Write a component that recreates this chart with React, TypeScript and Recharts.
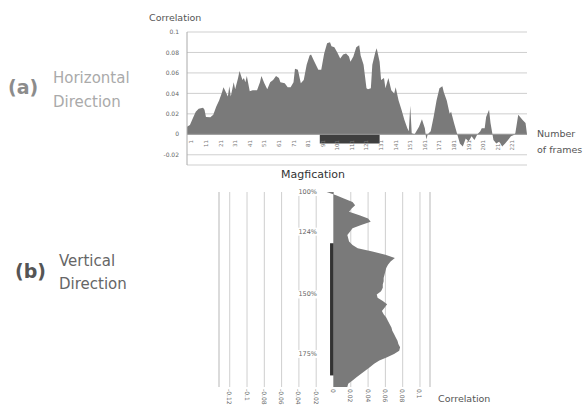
import React from "react";
import {
  AreaChart,
  ComposedChart,
  Area,
  XAxis,
  YAxis,
  CartesianGrid,
  ReferenceArea,
  ReferenceLine,
} from "recharts";

// (a) horizontal direction: correlation per frame
const FRAMES = [
  -2, 0, 2, 4, 6, 9, 10, 11, 14, 16, 18, 20, 22, 23, 24, 26, 27, 28, 30, 31,
  33, 34, 36, 37, 38, 39, 41, 43, 46, 48, 49, 51, 53, 55, 57, 59, 61, 62, 65,
  67, 69, 71, 72, 74, 76, 78, 80, 82, 83, 85, 87, 88, 90, 92, 94, 96, 97, 99,
  101, 103, 105, 107, 109, 110, 112, 114, 116, 117, 119, 121, 122, 124, 125,
  127, 128, 130, 131, 133, 134, 136, 138, 140, 141, 143, 145, 147, 149, 150,
  151, 152, 154, 157, 159, 161, 162, 163, 165, 167, 169, 171, 173, 174, 176,
  178, 179, 181, 183, 185, 187, 189, 191, 193, 195, 197, 199, 200, 202, 203,
  205, 206, 208, 210, 212, 214, 216, 218, 220, 222, 223, 225, 227, 228, 230,
  231,
];
const H_CORR = [
  0.0075, 0.009, 0.0156, 0.022, 0.025, 0.026, 0.024, 0.017, 0.0166, 0.019,
  0.027, 0.033, 0.041, 0.046, 0.043, 0.037, 0.047, 0.037, 0.051, 0.044, 0.055,
  0.062, 0.053, 0.055, 0.051, 0.057, 0.042, 0.043, 0.043, 0.051, 0.057, 0.05,
  0.044, 0.051, 0.053, 0.057, 0.055, 0.051, 0.05, 0.046, 0.046, 0.051, 0.064,
  0.063, 0.05, 0.053, 0.068, 0.077, 0.078, 0.072, 0.066, 0.063, 0.063, 0.079,
  0.089, 0.09, 0.086, 0.085, 0.08, 0.074, 0.078, 0.079, 0.076, 0.071, 0.076,
  0.085, 0.087, 0.077, 0.068, 0.045, 0.044, 0.045, 0.068, 0.08, 0.084, 0.071,
  0.053, 0.055, 0.045, 0.055, 0.043, 0.04, 0.046, 0.033, 0.024, 0.014, 0.006,
  0.003, 0.028, 0.001, 0, 0.0075, 0.0146, 0.006, -0.005, 0, 0.003, 0.017,
  0.033, 0.045, 0.047, 0.041, 0.033, 0.02, 0.022, 0.011, 0.001, -0.009, -0.012,
  -0.004, -0.007, -0.002, -0.0055, 0, 0.003, 0.006, 0.006, 0.017, 0.024, 0.011,
  -0.0055, -0.009, -0.007, -0.012, -0.009, -0.0055, -0.002, -0.0007, 0.001,
  0.019, 0.0156, 0.014, 0.011, 0,
];
const FRAME_TICKS = [
  1, 11, 21, 31, 41, 51, 61, 71, 81, 91, 101, 111, 121, 131, 141, 151, 161,
  171, 181, 191, 201, 211, 221,
];
const H_TICKS = [-0.02, 0, 0.02, 0.04, 0.06, 0.08, 0.1];
const H_MARK = { from: 89, to: 130, depth: -0.009 };

// (b) vertical direction: correlation per magnification step (top = 100%)
const V_CORR = [
  -0.008, 0.003, 0.012, 0.022, 0.025, 0.021, 0.018, 0.03, 0.04, 0.043, 0.032,
  0.022, 0.019, 0.016, 0.017, 0.018, 0.022, 0.028, 0.045, 0.06, 0.071, 0.066,
  0.063, 0.061, 0.06, 0.059, 0.058, 0.058, 0.057, 0.057, 0.055, 0.05, 0.051,
  0.057, 0.062, 0.059, 0.056, 0.058, 0.061, 0.063, 0.065, 0.067, 0.068, 0.07,
  0.072, 0.074, 0.075, 0.077, 0.076, 0.07, 0.062, 0.053, 0.047, 0.042, 0.037,
  0.032, 0.027, 0.022, 0.017, 0.016,
];
const MAG_TICK_ROWS = [0, 12, 31, 49];
const MAG_LABELS = ["100%", "124%", "150%", "175%"];
const V_TICKS = [-0.12, -0.1, -0.08, -0.06, -0.04, -0.02, 0, 0.02, 0.04, 0.06, 0.08, 0.1];
const V_DOMAIN = [-0.1324, 0.1116];
const V_MARK = { from: 15.5, to: 55.5, depth: -0.004 };

const AREA_GRAY = "#7a7a7a";
const GRID = "#cfcfcf";
const FONT = "'DejaVu Sans', Verdana, sans-serif";

const hData = FRAMES.map((f, i) => ({ frame: f, corr: H_CORR[i] }));
const vData = V_CORR.map((c, i) => ({ row: i, corr: c }));

const FrameTick = (props: any) => {
  const { x, payload } = props;
  const y = 140;
  return (
    <text
      x={x}
      y={y}
      transform={`rotate(-90 ${x} ${y})`}
      textAnchor="end"
      dominantBaseline="central"
      fontSize={5.5}
      fill="#777"
    >
      {payload.value}
    </text>
  );
};

const CorrTick = (props: any) => {
  const { x, payload } = props;
  const y = 209;
  return (
    <text
      x={x}
      y={y}
      transform={`rotate(90 ${x} ${y})`}
      textAnchor="start"
      dominantBaseline="central"
      fontSize={6}
      fill="#666"
    >
      {String(payload.value)}
    </text>
  );
};

const MagTick = (props: any) => {
  const { y, payload } = props;
  const idx = MAG_TICK_ROWS.indexOf(payload.value);
  const right = 317;
  return (
    <g>
      <rect x={right - 22} y={y - 4} width={23} height={8} fill="#fff" />
      <text x={right} y={y} textAnchor="end" dominantBaseline="central" fontSize={6.5} fill="#666">
        {MAG_LABELS[idx]}
      </text>
    </g>
  );
};

export default function App() {
  return (
    <div
      style={{
        position: "absolute",
        left: 0,
        top: 0,
        width: 583,
        height: 407,
        background: "#fff",
        fontFamily: FONT,
        overflow: "hidden",
      }}
    >
      {/* (a) */}
      <div style={{ position: "absolute", left: 0, top: 0 }}>
        <AreaChart
          width={583}
          height={180}
          data={hData}
          margin={{ top: 32, right: 56, bottom: 5, left: 147 }}
        >
          <CartesianGrid vertical={false} stroke={GRID} />
          <XAxis
            type="number"
            dataKey="frame"
            domain={[-2, 231]}
            ticks={FRAME_TICKS}
            interval={0}
            height={10}
            axisLine={false}
            tickLine={false}
            tick={<FrameTick />}
          />
          <YAxis
            type="number"
            domain={[-0.03, 0.1]}
            ticks={H_TICKS}
            interval={0}
            width={40}
            stroke="#aaa"
            tickLine={false}
            tick={{ fontSize: 6, fill: "#666" }}
          />
          <Area
            type="linear"
            dataKey="corr"
            fill={AREA_GRAY}
            fillOpacity={1}
            stroke="none"
            isAnimationActive={false}
          />
          <ReferenceLine y={0} stroke="#999" />
          <ReferenceArea
            x1={H_MARK.from}
            x2={H_MARK.to}
            y1={H_MARK.depth}
            y2={0}
            fill="#3f3f3f"
            fillOpacity={1}
            stroke="none"
          />
        </AreaChart>
      </div>

      {/* (b) */}
      <div style={{ position: "absolute", left: 0, top: 180 }}>
        <ComposedChart
          layout="vertical"
          width={583}
          height={227}
          data={vData}
          margin={{ top: 12, right: 153, bottom: 2, left: 199 }}
        >
          <CartesianGrid horizontal={false} stroke={GRID} />
          <XAxis
            type="number"
            domain={V_DOMAIN}
            ticks={V_TICKS}
            interval={0}
            height={18}
            axisLine={false}
            tickLine={false}
            tick={<CorrTick />}
          />
          <YAxis
            type="number"
            dataKey="row"
            domain={[0, 59]}
            ticks={MAG_TICK_ROWS}
            interval={0}
            width={20}
            axisLine={false}
            tickLine={false}
            tick={<MagTick />}
          />
          <ReferenceLine x={V_DOMAIN[0]} stroke={GRID} />
          <ReferenceLine x={V_DOMAIN[1]} stroke={GRID} />
          <Area
            type="linear"
            dataKey="corr"
            fill={AREA_GRAY}
            fillOpacity={1}
            stroke="none"
            isAnimationActive={false}
          />
          <ReferenceArea
            x1={V_MARK.depth}
            x2={0}
            y1={V_MARK.from}
            y2={V_MARK.to}
            fill="#333"
            fillOpacity={1}
            stroke="none"
          />
        </ComposedChart>
      </div>

      <svg
        width={583}
        height={407}
        style={{ position: "absolute", left: 0, top: 0, pointerEvents: "none" }}
      >
        <text x={149} y={21} fontSize={9.5} fill="#555">Correlation</text>
        <text x={537} y={137} fontSize={9.5} fill="#555">Number</text>
        <text x={537} y={153} fontSize={9.5} fill="#555">of frames</text>
        <text x={281} y={178} fontSize={11} fill="#333">Magfication</text>
        <text x={438} y={402} fontSize={9.5} fill="#555">Correlation</text>

        <text x={8} y={94} fontSize={19} fontWeight="bold" fill="#8c8c8c">(a)</text>
        <text x={53} y={83} fontSize={15} fill="#aaa">Horizontal</text>
        <text x={53} y={107} fontSize={15} fill="#aaa">Direction</text>

        <text x={15} y={278} fontSize={19} fontWeight="bold" fill="#555">(b)</text>
        <text x={59} y={266} fontSize={15} fill="#666">Vertical</text>
        <text x={59} y={289} fontSize={15} fill="#666">Direction</text>
      </svg>
    </div>
  );
}
